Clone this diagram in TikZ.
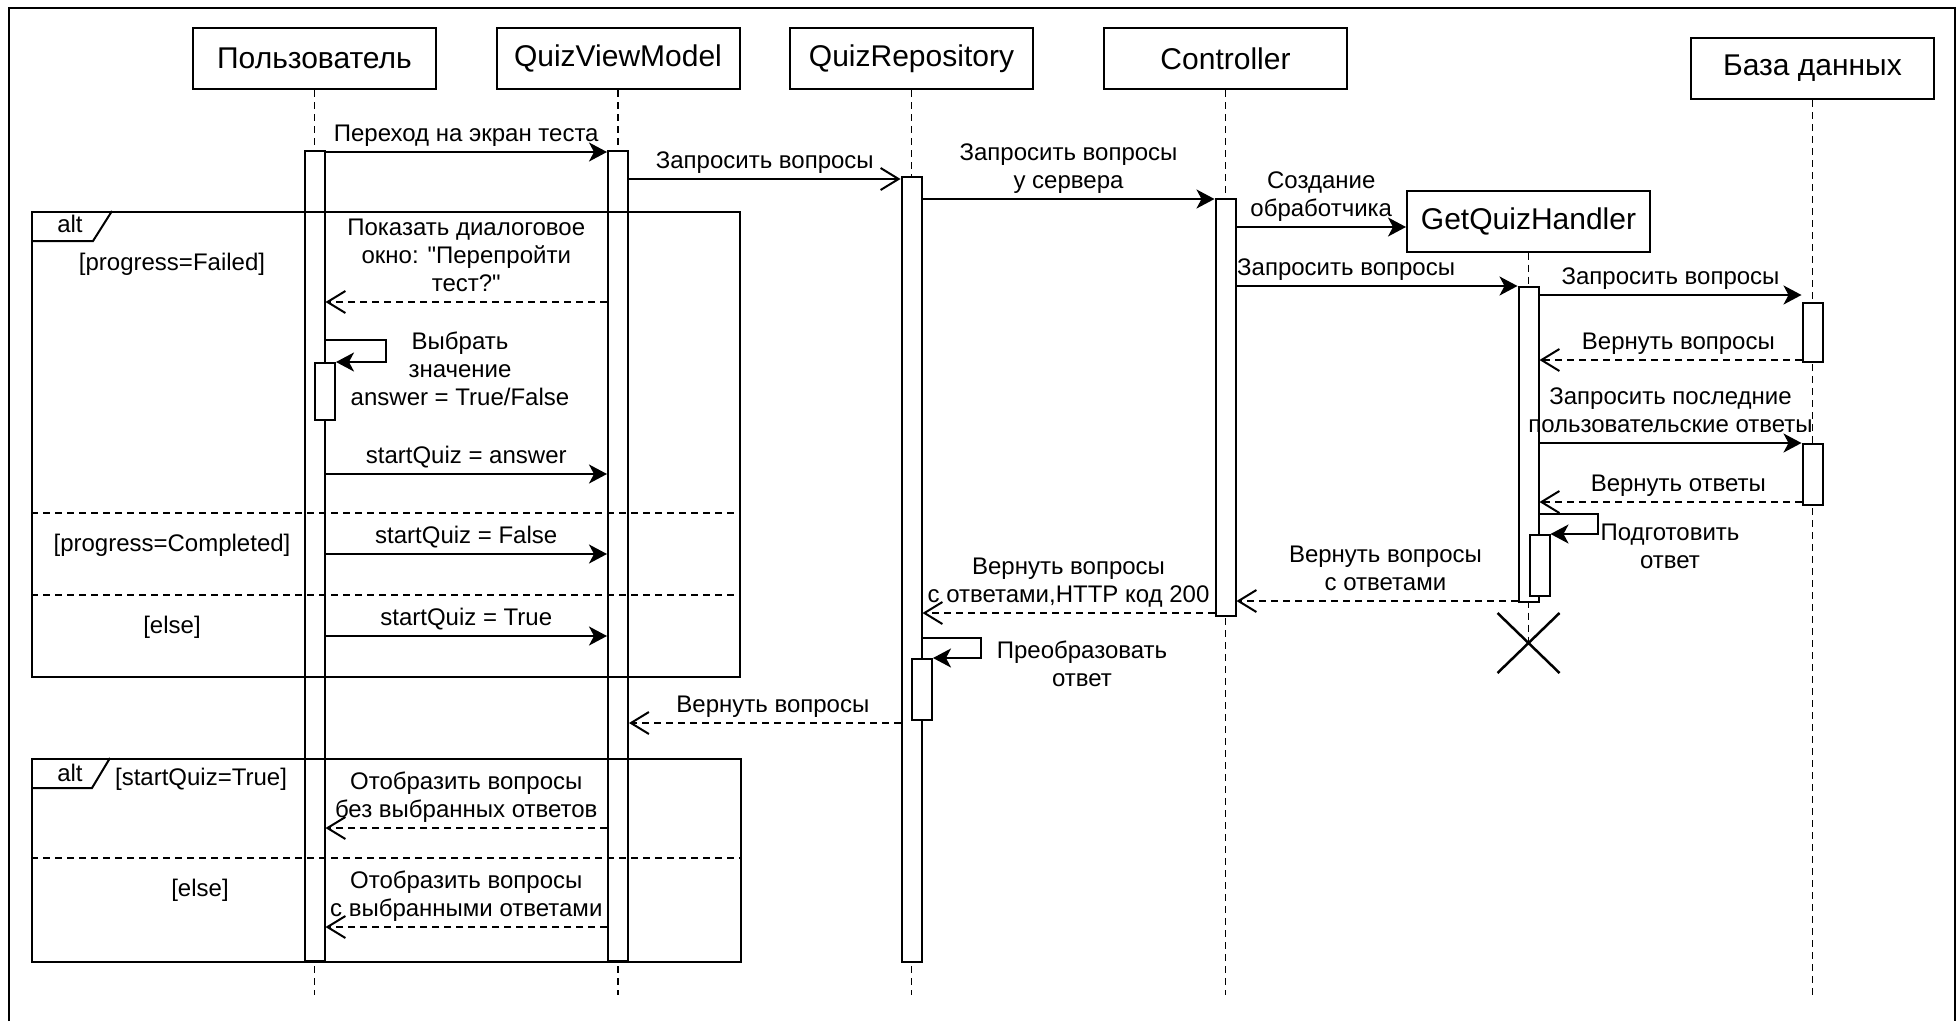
\documentclass[tikz,border=0pt]{standalone}
\usepackage{fontspec}
\newfontfamily\lsans{Liberation Sans}
\usetikzlibrary{arrows.meta, calc}
\tikzset{
  head/.style={draw, line width=2pt, minimum width=243pt, minimum height=61pt, font=\lsans\fontsize{30}{36}\selectfont},
  bar/.style={draw, fill=white, line width=2pt, minimum width=20pt, inner sep=0pt, anchor=north},
  life/.style={line width=1.5pt, dash pattern=on 7pt off 5pt},
  msg/.style={line width=2pt, -{Stealth[length=18pt, width=19pt, inset=5pt]}},
  req/.style={line width=2pt, -{Straight Barb[length=18pt, width=22pt]}},
  ret/.style={req, dash pattern=on 7pt off 5pt},
  lbl/.style={font=\lsans\fontsize{24}{28}\selectfont, align=center, inner sep=4pt, text depth=6pt},
  txt/.style={font=\lsans\fontsize{24}{28}\selectfont, align=center, inner sep=0pt},
  frame/.style={draw, line width=2pt, inner sep=0pt, anchor=north west},
  sep/.style={line width=2pt, dash pattern=on 7pt off 5pt},
}

\begin{document}
\begin{tikzpicture}[x=1pt, y=-1pt]
	\useasboundingbox (0,0) rectangle (1959,1021);
	\draw[line width=2pt] (9,1021) -- (9,8) -- (1955,8) -- (1955,1021);

	% participants
	\node[head] (polz) at (314.5,58.5) {Пользователь};
	\node[head] (qvm) at (618,58.5) {QuizViewModel};
	\node[head] (repo) at (911.5,58.5) {QuizRepository};
	\node[head] (ctrl) at (1225.5,58.5) {Controller};
	\node[head] (db) at (1812.5,68.5) {База данных};
	\node[head] (gqh) at (1528.5,221) {GetQuizHandler};

	% lifelines
	\foreach \p in {polz, qvm, repo, ctrl, db} {
		\coordinate (\p-end) at (\p.south |- 0,995);
		\draw[life] (\p) -- (\p-end);
	}
	\coordinate (gqhX) at (gqh.south |- 0,643);
	\draw[life] (gqh) -- (gqhX);
	\draw[line width=2.5pt] (gqhX) ++(-31,-30) -- ++(62,60) (gqhX) ++(-31,30) -- ++(62,-60);

	% activations
	\node[bar, minimum height=810pt] (polzA) at (polz.south |- 0,150) {};
	\node[bar, minimum height=810pt] (qvmA) at (qvm.south |- 0,150) {};
	\node[bar, minimum height=785pt] (repoA) at (repo.south |- 0,176) {};
	\node[bar, minimum height=417pt] (ctrlA) at (ctrl.south |- 0,198) {};
	\node[bar, minimum height=315pt] (gqhA) at (gqh.south |- 0,286) {};
	\node[bar, minimum height=59pt] (dbA) at (db.south |- 0,302) {};
	\node[bar, minimum height=61pt] (dbB) at (db.south |- 0,443) {};
	\node[bar, minimum height=57pt] (polzB) at (325,362) {};
	\node[bar, minimum height=61pt] (repoB) at (922,658) {};
	\node[bar, minimum height=61pt] (gqhB) at (1539.5,534) {};

	% messages
	\draw[msg] (polzA.east |- 0,152) -- (qvmA.west |- 0,152) node[lbl, midway, above] {Переход на экран теста};
	\draw[req] (qvmA.east |- 0,179) -- (repoA.west |- 0,179) node[lbl, midway, above] {Запросить вопросы};
	\draw[msg] (repoA.east |- 0,199) -- (ctrlA.west |- 0,199) node[lbl, midway, above] {Запросить вопросы\\у сервера};
	\draw[msg] (ctrlA.east |- 0,227) -- (gqh.west |- 0,227) node[lbl, midway, above] {Создание\\обработчика};
	\draw[msg] (ctrlA.east |- 0,286) -- (gqhA.west |- 0,286) node[lbl, pos=.39, above] {Запросить вопросы};
	\draw[msg] (gqhA.east |- 0,295) -- (dbA.west |- 0,295) node[lbl, midway, above] {Запросить вопросы};
	\draw[ret] (dbA.west |- 0,360) -- (gqhA.east |- 0,360) node[lbl, pos=.47, above] {Вернуть вопросы};
	\draw[msg] (gqhA.east |- 0,443) -- (dbB.west |- 0,443) node[lbl, midway, above] {Запросить последние\\пользовательские ответы};
	\draw[ret] (dbB.west |- 0,502) -- (gqhA.east |- 0,502) node[lbl, pos=.47, above] {Вернуть ответы};
	\draw[msg] (gqhA.east |- 0,514) -- ++(58,0) |- (gqhB.north east);
	\node[txt] (prep) at (1670,546) {Подготовить\\ответ};
	\draw[ret] (gqhA.west |- 0,601) -- (ctrlA.east |- 0,601) node[lbl, pos=.47, above] {Вернуть вопросы\\с ответами};
	\draw[ret] (ctrlA.west |- 0,613) -- (repoA.east |- 0,613) node[lbl, midway, above] {Вернуть вопросы\\с ответами,HTTP код 200};
	\draw[msg] (repoA.east |- 0,638) -- ++(58,0) |- (repoB.north east);
	\node[txt] (conv) at (1082,664) {Преобразовать\\ответ};
	\draw[ret] (repoA.west |- 0,723) -- (qvmA.east |- 0,723) node[lbl, pos=.47, above] {Вернуть вопросы};

	% first alt
	\node[frame, minimum width=708pt, minimum height=465pt] (alt1) at (31,211) {};
	\draw[line width=2pt] (alt1.north west) ++(0,30) -- ++(62,0) -- ++(19,-30);
	\node[txt] (alt1t) at (70,224) {alt};
	\node[txt] (g1) at (172,264) {[progress=Failed]};
	\node[txt] (g2) at (172,545) {[progress=Completed]};
	\node[txt] (g3) at (172,627) {[else]};
	\draw[sep] (alt1.west |- 0,513) -- (alt1.east |- 0,513);
	\draw[sep] (alt1.west |- 0,595) -- (alt1.east |- 0,595);
	\draw[ret] (qvmA.west |- 0,302) -- (polzA.east |- 0,302) node[lbl, midway, above] {Показать диалоговое\\окно: "Перепройти\\тест?"};
	\draw[msg] (polzA.east |- 0,340) -- ++(60,0) |- (polzB.north east);
	\node[txt] (pick) at (460,369) {Выбрать\\значение\\answer = True/False};
	\draw[msg] (polzA.east |- 0,474) -- (qvmA.west |- 0,474) node[lbl, midway, above] {startQuiz = answer};
	\draw[msg] (polzA.east |- 0,554) -- (qvmA.west |- 0,554) node[lbl, midway, above] {startQuiz = False};
	\draw[msg] (polzA.east |- 0,636) -- (qvmA.west |- 0,636) node[lbl, midway, above] {startQuiz = True};

	% second alt
	\node[frame, minimum width=709pt, minimum height=203pt] (alt2) at (31,758) {};
	\draw[line width=2pt] (alt2.north west) ++(0,30) -- ++(61,0) -- ++(18,-30);
	\node[txt] (alt2t) at (70,773) {alt};
	\node[txt] (g4) at (201,779) {[startQuiz=True]};
	\node[txt] (g5) at (200,890) {[else]};
	\draw[sep] (alt2.west |- 0,858) -- (alt2.east |- 0,858);
	\draw[ret] (qvmA.west |- 0,828) -- (polzA.east |- 0,828) node[lbl, midway, above] {Отобразить вопросы\\без выбранных ответов};
	\draw[ret] (qvmA.west |- 0,927) -- (polzA.east |- 0,927) node[lbl, midway, above] {Отобразить вопросы\\с выбранными ответами};
\end{tikzpicture}
\end{document}
